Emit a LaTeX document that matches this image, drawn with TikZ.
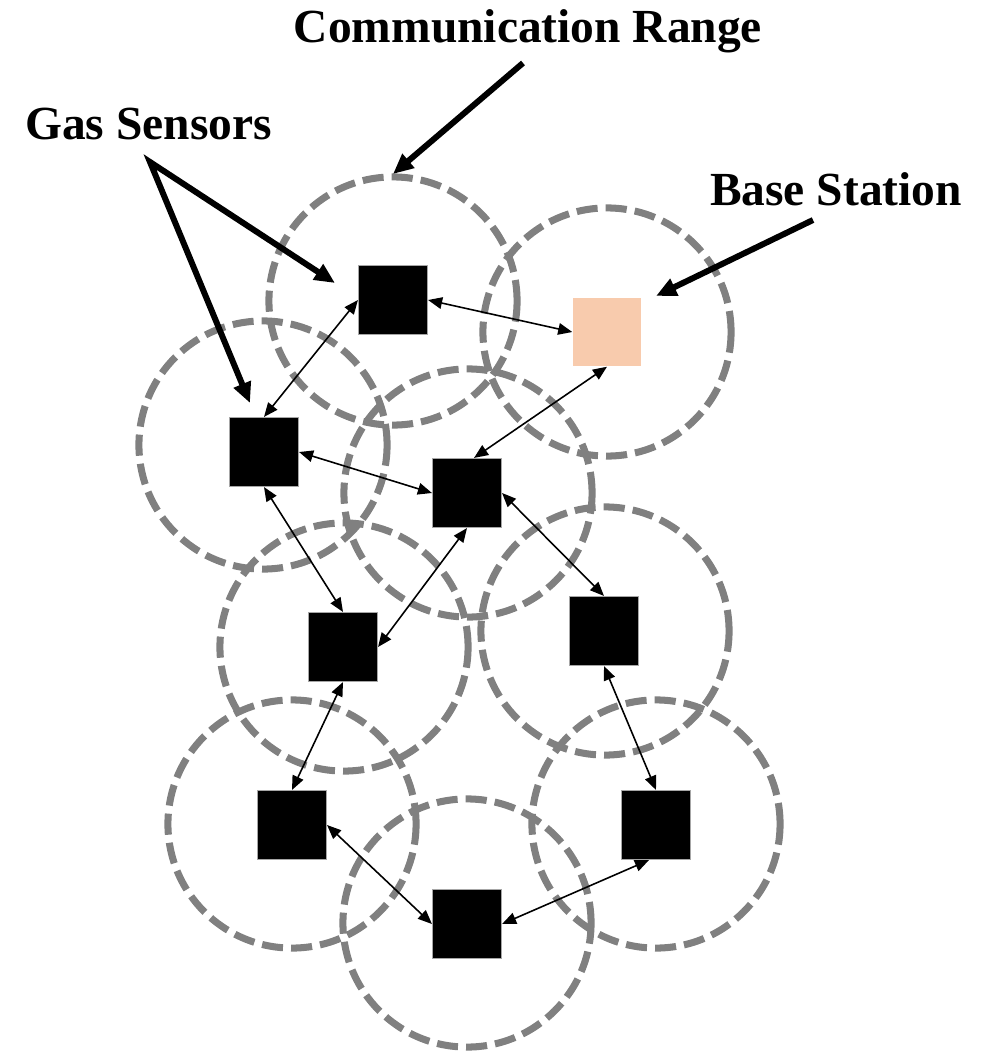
\documentclass[tikz,border=0pt]{standalone}
\usepackage{fontspec}
\setmainfont{Liberation Serif}
\usetikzlibrary{arrows.meta}
\definecolor{rangegray}{RGB}{128,128,128}
\definecolor{peach}{RGB}{248,203,173}
\begin{document}
\begin{tikzpicture}[x=0.01cm,y=-0.01cm,
  commrange/.style={draw=rangegray, line width=2pt, dash pattern=on 6pt off 2.3pt},
  sensor/.style={fill=black, draw=gray!70, line width=0.3pt, minimum size=0.69cm, inner sep=0pt},
  basest/.style={fill=peach, draw=none, minimum size=0.68cm, inner sep=0pt},
  link/.style={line width=0.45pt, {Triangle[length=4pt,width=3.3pt]}-{Triangle[length=4pt,width=3.3pt]}},
  pointer/.style={line width=1.7pt, -{Triangle[length=5.8pt,width=5pt]}},
  gpointer/.style={line width=1.7pt, {Triangle[length=5.8pt,width=5pt]}-{Triangle[length=5.8pt,width=5pt]}},
  txt/.style={font=\bfseries\fontsize{13.5}{16}\selectfont, inner sep=0pt, anchor=base}
]
\useasboundingbox (0,0) rectangle (990,1051);

% communication ranges
\draw[commrange] (393,301) circle[radius=1.24cm];
\draw[commrange] (607,332) circle[radius=1.24cm];
\draw[commrange] (263,445) circle[radius=1.24cm];
\draw[commrange] (468,493) circle[radius=1.24cm];
\draw[commrange] (344,647) circle[radius=1.24cm];
\draw[commrange] (605,631) circle[radius=1.24cm];
\draw[commrange] (292,824) circle[radius=1.24cm];
\draw[commrange] (656,824) circle[radius=1.24cm];
\draw[commrange] (467,923) circle[radius=1.24cm];

% nodes
\node[sensor] (S1) at (393,300) {};
\node[basest] (BS) at (607,332) {};
\node[sensor] (S3) at (264,452) {};
\node[sensor] (S4) at (467,493) {};
\node[sensor] (S5) at (343,647) {};
\node[sensor] (S6) at (604,631) {};
\node[sensor] (S7) at (292,825) {};
\node[sensor] (S8) at (656,825) {};
\node[sensor] (S9) at (467,924) {};

% links
\draw[link] (S1.east) -- (BS.west);
\draw[link] (S1.west) -- (S3.north);
\draw[link] (BS.south) -- ([xshift=0.07cm]S4.north);
\draw[link] (S3.east) -- (S4.west);
\draw[link] (S3.south) -- (S5.north);
\draw[link] (S4.south) -- (S5.east);
\draw[link] (S4.east) -- (S6.north);
\draw[link] (S5.south) -- (S7.north);
\draw[link] (S6.south) -- (S8.north);
\draw[link] (S7.east) -- (S9.west);
\draw[link] ([xshift=-0.07cm]S8.south) -- (S9.east);

% labels
\node[txt] (cr) at (528,42) {Communication Range};
\node[txt] (gs) at (148.5,139) {Gas Sensors};
\node[txt] (bsl) at (836,205) {Base Station};

% pointers
\coordinate (crs) at (523,63);
\coordinate (crt) at (393,174);
\draw[pointer] (crs) -- (crt);
\coordinate (gapex) at (150,162);
\coordinate (g1) at (335,283);
\coordinate (g2) at (250,403);
\draw[gpointer] (g1) -- (gapex) -- (g2);
\coordinate (bss) at (813,220);
\coordinate (bst) at (656,296);
\draw[pointer] (bss) -- (bst);
\end{tikzpicture}
\end{document}
